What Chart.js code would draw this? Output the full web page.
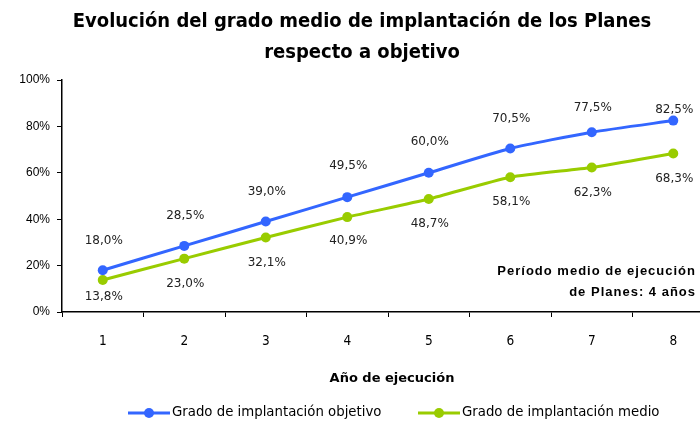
<!DOCTYPE html>
<html>
<head>
<meta charset="utf-8">
<script src="https://cdn.jsdelivr.net/npm/chart.js@4"></script>
<style>
    html, body { margin: 0; padding: 0; background: #fff; overflow: hidden; }
    #wrap { width: 700px; height: 425px; overflow: hidden; position: relative; }
    #chart { display: block; }
</style>
</head>
<body>
<div id="wrap"><canvas id="chart" width="720" height="425"></canvas></div>
<script>
// Datos del gráfico
const anios = ['1', '2', '3', '4', '5', '6', '7', '8'];
const gradoObjetivo = [18.0, 28.5, 39.0, 49.5, 60.0, 70.5, 77.5, 82.5];
const gradoMedio = [13.8, 23.0, 32.1, 40.9, 48.7, 58.1, 62.3, 68.3];
const yTicks = [0, 20, 40, 60, 80, 100];

const titulo = ['Evolución del grado medio de implantación de los Planes', 'respecto a objetivo'];
const tituloEjeX = 'Año de ejecución';
const nota = ['Período medio de ejecución', 'de Planes: 4 años'];
const nombresSeries = ['Grado de implantación objetivo', 'Grado de implantación medio'];

const AZUL = '#3366FF';
const VERDE = '#99CC00';

const fmt = v => v.toFixed(1).replace('.', ',') + '%';

// Textos, etiquetas y leyenda dibujados a mano
const textosPlugin = {
    id: 'textos',
    afterDatasetsDraw(chart) {
        const ctx = chart.ctx;
        ctx.save();
        ctx.fillStyle = '#000';
        ctx.textAlign = 'center';
        ctx.textBaseline = 'middle';

        // título
        ctx.font = 'bold 20px "DejaVu Sans Condensed"';
        ctx.fillText(titulo[0], 362, 22);
        ctx.fillText(titulo[1], 362, 53);

        // etiquetas de datos
        ctx.font = '12px "DejaVu Sans"';
        ctx.fillStyle = '#222';
        const offArriba = [29, 30, 30, 31, 31, 30, 24, 11];
        const offAbajo = [17, 25, 25, 24, 25, 25, 25, 25];
        chart.getDatasetMeta(0).data.forEach((p, i) => {
            ctx.fillText(fmt(gradoObjetivo[i]), p.x + 1, p.y - offArriba[i]);
        });
        chart.getDatasetMeta(1).data.forEach((p, i) => {
            ctx.fillText(fmt(gradoMedio[i]), p.x + 1, p.y + offAbajo[i]);
        });

        // título eje X
        ctx.fillStyle = '#000';
        ctx.font = 'bold 13px "DejaVu Sans"';
        ctx.fillText(tituloEjeX, 392, 379);

        // nota
        ctx.font = 'bold 13px "Liberation Sans"';
        ctx.letterSpacing = '1px';
        ctx.textAlign = 'right';
        ctx.fillText(nota[0], 696, 271);
        ctx.fillText(nota[1], 696, 292);
        ctx.letterSpacing = '0px';

        // leyenda
        const items = [
            { color: AZUL, x0: 128, x1: 170, texto: nombresSeries[0] },
            { color: VERDE, x0: 418, x1: 460, texto: nombresSeries[1] }
        ];
        const ly = 413;
        ctx.font = '13.3px "DejaVu Sans"';
        ctx.textAlign = 'left';
        items.forEach(it => {
            ctx.strokeStyle = it.color;
            ctx.lineWidth = 3;
            ctx.beginPath();
            ctx.moveTo(it.x0, ly);
            ctx.lineTo(it.x1, ly);
            ctx.stroke();
            ctx.fillStyle = it.color;
            ctx.beginPath();
            ctx.arc((it.x0 + it.x1) / 2, ly, 5, 0, Math.PI * 2);
            ctx.fill();
            ctx.fillStyle = '#000';
            ctx.fillText(it.texto, it.x1 + 2, ly);
        });
        ctx.restore();
    }
};

new Chart(document.getElementById('chart'), {
    type: 'line',
    data: {
        labels: anios,
        datasets: [{
            label: nombresSeries[0],
            data: gradoObjetivo,
            borderColor: AZUL,
            backgroundColor: AZUL,
            borderWidth: 3,
            pointRadius: 5,
            pointBackgroundColor: AZUL,
            pointBorderWidth: 0,
            tension: 0.2
        }, {
            label: nombresSeries[1],
            data: gradoMedio,
            borderColor: VERDE,
            backgroundColor: VERDE,
            borderWidth: 3,
            pointRadius: 5,
            pointBackgroundColor: VERDE,
            pointBorderWidth: 0,
            tension: 0.2
        }]
    },
    options: {
        responsive: false,
        animation: false,
        layout: { padding: { top: 80, left: 0, right: 6, bottom: 0 } },
        plugins: {
            legend: { display: false },
            title: { display: false },
            tooltip: { enabled: false }
        },
        scales: {
            x: {
                offset: true,
                grid: {
                    offset: true,
                    drawOnChartArea: false,
                    drawTicks: true,
                    tickLength: 5,
                    color: '#000',
                    lineWidth: 1
                },
                border: { color: '#000', width: 1.5 },
                ticks: {
                    color: '#000',
                    padding: 16,
                    font: { family: '"DejaVu Sans Condensed"', size: 13.5 }
                },
                afterFit(scale) { scale.height = 113; }
            },
            y: {
                min: 0,
                max: 100,
                afterBuildTicks(scale) {
                    scale.ticks = yTicks.map(v => ({ value: v }));
                },
                grid: {
                    drawOnChartArea: false,
                    drawTicks: true,
                    tickLength: 5,
                    color: '#000',
                    lineWidth: 1
                },
                border: { color: '#000', width: 1.5 },
                ticks: {
                    color: '#000',
                    padding: 7,
                    font: { family: '"Liberation Sans"', size: 12 },
                    callback: v => v + '%'
                },
                afterFit(scale) { scale.width = 62; }
            }
        }
    },
    plugins: [textosPlugin]
});
</script>
</body>
</html>
